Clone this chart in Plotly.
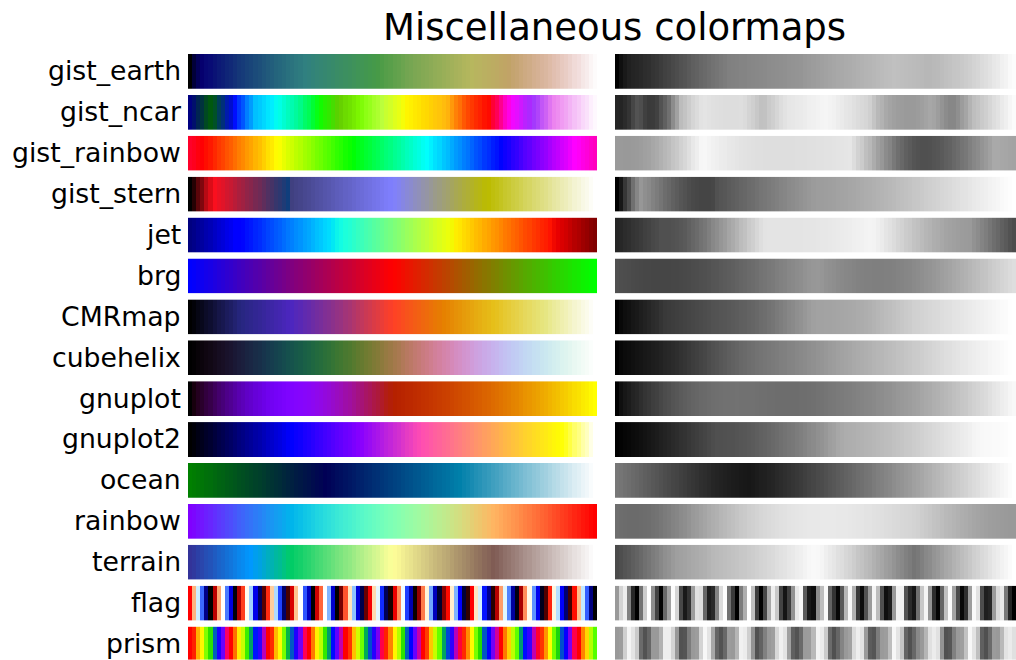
import numpy as np
import plotly.graph_objects as go

# ---------------- data ----------------
TITLE = "Miscellaneous colormaps"
CMAP_NAMES = ["gist_earth", "gist_ncar", "gist_rainbow", "gist_stern", "jet", "brg",
              "CMRmap", "cubehelix", "gnuplot", "gnuplot2", "ocean", "rainbow",
              "terrain", "flag", "prism"]
N_SAMPLES = 100
LUT_SIZE = 256

# segment data (x, value_left, value_right) per channel
GIST_EARTH = {
    "red": [(0.0, 0.0, 0.0), (0.2824, 0.1882, 0.1882), (0.4588, 0.2714, 0.2714),
            (0.5490, 0.4719, 0.4719), (0.6980, 0.7176, 0.7176), (0.7882, 0.7553, 0.7553),
            (1.0, 0.9922, 0.9922)],
    "green": [(0.0, 0.0, 0.0), (0.0275, 0.0, 0.0), (0.1098, 0.1893, 0.1893),
              (0.1647, 0.3035, 0.3035), (0.2078, 0.3841, 0.3841), (0.2824, 0.5020, 0.5020),
              (0.5216, 0.6397, 0.6397), (0.6980, 0.7171, 0.7171), (0.7882, 0.6392, 0.6392),
              (0.7922, 0.6413, 0.6413), (0.8000, 0.6447, 0.6447), (0.8078, 0.6481, 0.6481),
              (0.8157, 0.6549, 0.6549), (0.8667, 0.6991, 0.6991), (0.8745, 0.7103, 0.7103),
              (0.8824, 0.7216, 0.7216), (0.8902, 0.7323, 0.7323), (0.8980, 0.7430, 0.7430),
              (0.9412, 0.8275, 0.8275), (0.9569, 0.8635, 0.8635), (0.9647, 0.8816, 0.8816),
              (0.9961, 0.9733, 0.9733), (1.0, 0.9843, 0.9843)],
    "blue": [(0.0, 0.0, 0.0), (0.0039, 0.1684, 0.1684), (0.0078, 0.2212, 0.2212),
             (0.0275, 0.4329, 0.4329), (0.0314, 0.4549, 0.4549), (0.2824, 0.5004, 0.5004),
             (0.4667, 0.2748, 0.2748), (0.5451, 0.3205, 0.3205), (0.7843, 0.3961, 0.3961),
             (0.8941, 0.6651, 0.6651), (1.0, 0.9843, 0.9843)],
}
GIST_NCAR = {
    "red": [(0.0, 0.0, 0.0), (0.3098, 0.0, 0.0), (0.3725, 0.3993, 0.3993),
            (0.4235, 0.5003, 0.5003), (0.5333, 1.0, 1.0), (0.7922, 1.0, 1.0),
            (0.8471, 0.6218, 0.6218), (0.8980, 0.9235, 0.9235), (1.0, 0.9961, 0.9961)],
    "green": [(0.0, 0.0, 0.0), (0.0510, 0.3722, 0.3722), (0.1059, 0.0, 0.0),
              (0.1569, 0.7202, 0.7202), (0.1608, 0.7537, 0.7537), (0.1647, 0.7752, 0.7752),
              (0.2157, 1.0, 1.0), (0.2588, 0.9804, 0.9804), (0.2706, 0.9804, 0.9804),
              (0.3176, 1.0, 1.0), (0.3686, 0.8081, 0.8081), (0.4275, 1.0, 1.0),
              (0.5216, 1.0, 1.0), (0.6314, 0.7292, 0.7292), (0.6863, 0.2796, 0.2796),
              (0.7451, 0.0, 0.0), (0.7922, 0.0, 0.0), (0.8431, 0.1753, 0.1753),
              (0.8980, 0.5, 0.5), (1.0, 0.9725, 0.9725)],
    "blue": [(0.0, 0.5020, 0.5020), (0.0510, 0.0222, 0.0222), (0.1098, 1.0, 1.0),
             (0.2039, 1.0, 1.0), (0.2627, 0.6145, 0.6145), (0.3216, 0.0, 0.0),
             (0.4157, 0.0, 0.0), (0.4745, 0.2342, 0.2342), (0.5333, 0.0, 0.0),
             (0.5804, 0.0, 0.0), (0.6314, 0.0549, 0.0549), (0.6902, 0.0, 0.0),
             (0.7373, 0.0, 0.0), (0.7922, 0.9738, 0.9738), (0.8000, 1.0, 1.0),
             (0.8431, 1.0, 1.0), (0.8980, 0.9341, 0.9341), (1.0, 0.9961, 0.9961)],
}
GIST_STERN = {
    "red": [(0.0, 0.0, 0.0), (0.0547, 1.0, 1.0), (0.250, 0.027, 0.250), (1.0, 1.0, 1.0)],
    "green": [(0.0, 0.0, 0.0), (1.0, 1.0, 1.0)],
    "blue": [(0.0, 0.0, 0.0), (0.5, 1.0, 1.0), (0.735, 0.0, 0.0), (1.0, 1.0, 1.0)],
}
JET = {
    "red": [(0.0, 0, 0), (0.35, 0, 0), (0.66, 1, 1), (0.89, 1, 1), (1.0, 0.5, 0.5)],
    "green": [(0.0, 0, 0), (0.125, 0, 0), (0.375, 1, 1), (0.64, 1, 1), (0.91, 0, 0), (1.0, 0, 0)],
    "blue": [(0.0, 0.5, 0.5), (0.11, 1, 1), (0.34, 1, 1), (0.65, 0, 0), (1.0, 0, 0)],
}
BRG = {
    "red": [(0.0, 0.0, 0.0), (0.5, 1.0, 1.0), (1.0, 0.0, 0.0)],
    "green": [(0.0, 0.0, 0.0), (0.5, 0.0, 0.0), (1.0, 1.0, 1.0)],
    "blue": [(0.0, 1.0, 1.0), (0.5, 0.0, 0.0), (1.0, 0.0, 0.0)],
}
CMRMAP = {
    "red": [(0.0, 0.0, 0.0), (0.125, 0.15, 0.15), (0.25, 0.30, 0.30), (0.375, 0.60, 0.60),
            (0.5, 1.0, 1.0), (0.625, 0.90, 0.90), (0.75, 0.90, 0.90), (0.875, 0.90, 0.90),
            (1.0, 1.0, 1.0)],
    "green": [(0.0, 0.0, 0.0), (0.125, 0.15, 0.15), (0.25, 0.15, 0.15), (0.375, 0.20, 0.20),
              (0.5, 0.25, 0.25), (0.625, 0.50, 0.50), (0.75, 0.75, 0.75), (0.875, 0.90, 0.90),
              (1.0, 1.0, 1.0)],
    "blue": [(0.0, 0.0, 0.0), (0.125, 0.50, 0.50), (0.25, 0.75, 0.75), (0.375, 0.50, 0.50),
             (0.5, 0.15, 0.15), (0.625, 0.0, 0.0), (0.75, 0.10, 0.10), (0.875, 0.50, 0.50),
             (1.0, 1.0, 1.0)],
}
# listed (position, rgb) colormaps
GIST_RAINBOW = [(0.000, (1.00, 0.00, 0.16)), (0.030, (1.00, 0.00, 0.00)),
                (0.215, (1.00, 1.00, 0.00)), (0.400, (0.00, 1.00, 0.00)),
                (0.586, (0.00, 1.00, 1.00)), (0.770, (0.00, 0.00, 1.00)),
                (0.954, (1.00, 0.00, 1.00)), (1.000, (1.00, 0.00, 0.75))]
TERRAIN = [(0.00, (0.2, 0.2, 0.6)), (0.15, (0.0, 0.6, 1.0)), (0.25, (0.0, 0.8, 0.4)),
           (0.50, (1.0, 1.0, 0.6)), (0.75, (0.5, 0.36, 0.33)), (1.00, (1.0, 1.0, 1.0))]
# gnuplot-style palette formula numbers (r, g, b)
GNUPLOT_IDS = {"gnuplot": (7, 5, 15), "gnuplot2": (30, 31, 32), "ocean": (23, 28, 3),
               "rainbow": (33, 13, 10)}
CUBEHELIX_PARAMS = dict(gamma=1.0, s=0.5, r=-1.5, h=1.0)
FLAG_FREQ = 31.5
PRISM_FREQ = 20.9


# ---------------- colormap machinery (matplotlib definitions) ----------------
def seg_lut(seg, N=LUT_SIZE):
    x = np.array([p[0] for p in seg], float) * (N - 1)
    y0 = np.array([p[1] for p in seg], float)
    y1 = np.array([p[2] for p in seg], float)
    xind = (N - 1) * np.linspace(0, 1, N)
    ind = np.searchsorted(x, xind)[1:-1]
    dist = (xind[1:-1] - x[ind - 1]) / (x[ind] - x[ind - 1])
    mid = dist * (y0[ind] - y1[ind - 1]) + y1[ind - 1]
    return np.clip(np.concatenate([[y1[0]], mid, [y0[-1]]]), 0, 1)


def listed_to_seg(lst, ch):
    return [(p, c[ch], c[ch]) for p, c in lst]


def g32(x):
    ret = np.zeros(len(x))
    m = x < 0.25
    ret[m] = 4 * x[m]
    m = (x >= 0.25) & (x < 0.92)
    ret[m] = -2 * x[m] + 1.84
    m = x >= 0.92
    ret[m] = x[m] / 0.08 - 11.5
    return ret


GFUNC = {
    3: lambda x: x, 5: lambda x: x ** 3, 7: lambda x: np.sqrt(x),
    10: lambda x: np.cos(x * np.pi / 2), 13: lambda x: np.sin(x * np.pi),
    15: lambda x: np.sin(x * 2 * np.pi), 23: lambda x: 3 * x - 2,
    28: lambda x: np.abs((3 * x - 1) / 2), 30: lambda x: x / 0.32 - 0.78125,
    31: lambda x: 2 * x - 0.84, 32: g32, 33: lambda x: np.abs(2 * x - 0.5),
}


def func_lut(funcs, N=LUT_SIZE):
    x = np.linspace(0, 1, N)
    return [np.clip(f(x), 0, 1) for f in funcs]


def cubehelix_funcs(gamma, s, r, h):
    def mk(p0, p1):
        def f(x):
            xg = x ** gamma
            a = h * xg * (1 - xg) / 2
            phi = 2 * np.pi * (s / 3 + r * x)
            return xg + a * (p0 * np.cos(phi) + p1 * np.sin(phi))
        return f
    return [mk(-0.14861, 1.78277), mk(-0.29227, -0.90649), mk(1.97294, 0.0)]


def flag_funcs():
    return [lambda x: 0.75 * np.sin((x * FLAG_FREQ + 0.25) * np.pi) + 0.5,
            lambda x: np.sin(x * FLAG_FREQ * np.pi),
            lambda x: 0.75 * np.sin((x * FLAG_FREQ - 0.25) * np.pi) + 0.5]


def prism_funcs():
    return [lambda x: 0.75 * np.sin((x * PRISM_FREQ + 0.25) * np.pi) + 0.67,
            lambda x: 0.75 * np.sin((x * PRISM_FREQ - 0.25) * np.pi) + 0.33,
            lambda x: -1.1 * np.sin((x * PRISM_FREQ) * np.pi)]


SEGMENTED = {"gist_earth": GIST_EARTH, "gist_ncar": GIST_NCAR, "gist_stern": GIST_STERN,
             "jet": JET, "brg": BRG, "CMRmap": CMRMAP}
LISTED = {"gist_rainbow": GIST_RAINBOW, "terrain": TERRAIN}


def get_lut(name):
    if name in SEGMENTED:
        d = SEGMENTED[name]
        chans = [seg_lut(d[c]) for c in ("red", "green", "blue")]
    elif name in LISTED:
        chans = [seg_lut(listed_to_seg(LISTED[name], i)) for i in range(3)]
    elif name in GNUPLOT_IDS:
        chans = func_lut([GFUNC[i] for i in GNUPLOT_IDS[name]])
    elif name == "cubehelix":
        chans = func_lut(cubehelix_funcs(**CUBEHELIX_PARAMS))
    elif name == "flag":
        chans = func_lut(flag_funcs())
    elif name == "prism":
        chans = func_lut(prism_funcs())
    return np.stack(chans, axis=1)


def sample(name, vals):
    lut = get_lut(name)
    idx = np.clip((vals * LUT_SIZE).astype(int), 0, LUT_SIZE - 1)
    return lut[idx]


# CAM02-UCS lightness J'
def cam02ucs_lightness(rgb):
    c = np.where(rgb <= 0.04045, rgb / 12.92, ((rgb + 0.055) / 1.055) ** 2.4)
    M = np.array([[0.4124, 0.3576, 0.1805], [0.2126, 0.7152, 0.0722], [0.0193, 0.1192, 0.9505]])
    XYZ = (c @ M.T) * 100
    L_A = 64 / np.pi / 5
    F, cc, Nc = 1.0, 0.69, 1.0
    Yb, Yw = 20.0, 100.0
    MC = np.array([[0.7328, 0.4296, -0.1624], [-0.7036, 1.6975, 0.0061], [0.0030, 0.0136, 0.9834]])
    MH = np.array([[0.38971, 0.68898, -0.07868], [-0.22981, 1.18340, 0.04641], [0, 0, 1]])
    XYZw = np.array([95.047, 100.0, 108.883])
    RGBw = MC @ XYZw
    D = np.clip(F * (1 - (1 / 3.6) * np.exp((-L_A - 42) / 92)), 0, 1)
    Dv = Yw * D / RGBw + 1 - D
    k = 1 / (5 * L_A + 1)
    FL = 0.2 * k ** 4 * (5 * L_A) + 0.1 * (1 - k ** 4) ** 2 * (5 * L_A) ** (1 / 3)
    n = Yb / Yw
    z = 1.48 + np.sqrt(n)
    Nbb = 0.725 * (1 / n) ** 0.2
    T = MH @ np.linalg.inv(MC)

    def A_of(xyz):
        rgbc = (xyz @ MC.T) * Dv
        rp = rgbc @ T.T
        t = (FL * np.abs(rp) / 100) ** 0.42
        ra = np.sign(rp) * 400 * t / (t + 27.13) + 0.1
        return (2 * ra[..., 0] + ra[..., 1] + ra[..., 2] / 20 - 0.305) * Nbb

    A = A_of(XYZ)
    Aw = A_of(XYZw[None, :])[0]
    J = 100 * np.clip(A / Aw, 0, None) ** (cc * z)
    return 1.7 * J / (1 + 0.007 * J)


# ---------------- figure ----------------
W, H = 1016, 660
gradient = np.linspace(0, 1, N_SAMPLES)
idx = np.arange(N_SAMPLES)

ROW_TOP0, ROW_PITCH, BAR_H = 54.0, 40.9, 34.8
COL_X = [(188, 597), (615, 1016)]

fig = go.Figure()
annotations = []
for i, name in enumerate(CMAP_NAMES):
    rgb = sample(name, gradient)
    cols = ["rgb(%d,%d,%d)" % tuple(np.round(c * 255).astype(int)) for c in rgb]
    cscale = [[j / (N_SAMPLES - 1), cols[j]] for j in range(N_SAMPLES)]
    L = cam02ucs_lightness(rgb)

    top = ROW_TOP0 + i * ROW_PITCH
    bot = min(top + BAR_H, H)
    ydom = [max(0.0, 1 - bot / H), 1 - top / H]
    for c in range(2):
        k = i * 2 + c + 1
        xa = "x" if k == 1 else "x%d" % k
        ya = "y" if k == 1 else "y%d" % k
        if c == 0:
            tr = go.Heatmap(z=[idx], zmin=0, zmax=N_SAMPLES - 1, colorscale=cscale,
                            showscale=False, hoverinfo="skip", xaxis=xa, yaxis=ya)
        else:
            tr = go.Heatmap(z=[L], zmin=0, zmax=100,
                            colorscale=[[0, "rgb(0,0,0)"], [1, "rgb(255,255,255)"]],
                            showscale=False, hoverinfo="skip", xaxis=xa, yaxis=ya)
        fig.add_trace(tr)
        axk = "" if k == 1 else str(k)
        fig.layout["xaxis" + axk] = dict(domain=[COL_X[c][0] / W, COL_X[c][1] / W],
                                         range=[-0.5, N_SAMPLES - 0.5], visible=False,
                                         anchor=ya, fixedrange=True)
        fig.layout["yaxis" + axk] = dict(domain=ydom, range=[-0.5, 0.5], visible=False,
                                         anchor=xa, fixedrange=True)
    annotations.append(dict(text=name, x=182.5 / W, y=1 - (top + BAR_H / 2 - 0.5) / H,
                            xref="paper", yref="paper", xanchor="right", yanchor="middle",
                            showarrow=False,
                            font=dict(family="DejaVu Sans", size=26.7, color="black")))

annotations.append(dict(text=TITLE, x=614 / W, y=1 - 27.5 / H, xref="paper", yref="paper",
                        xanchor="center", yanchor="middle", showarrow=False,
                        font=dict(family="DejaVu Sans", size=37, color="black")))

fig.update_layout(width=W, height=H, margin=dict(l=0, r=0, t=0, b=0),
                  paper_bgcolor="white", plot_bgcolor="white",
                  annotations=annotations, showlegend=False)
fig.write_html("out.html", config={"displayModeBar": False},
               post_script="document.body.style.margin='0';document.body.style.overflow='hidden';")
